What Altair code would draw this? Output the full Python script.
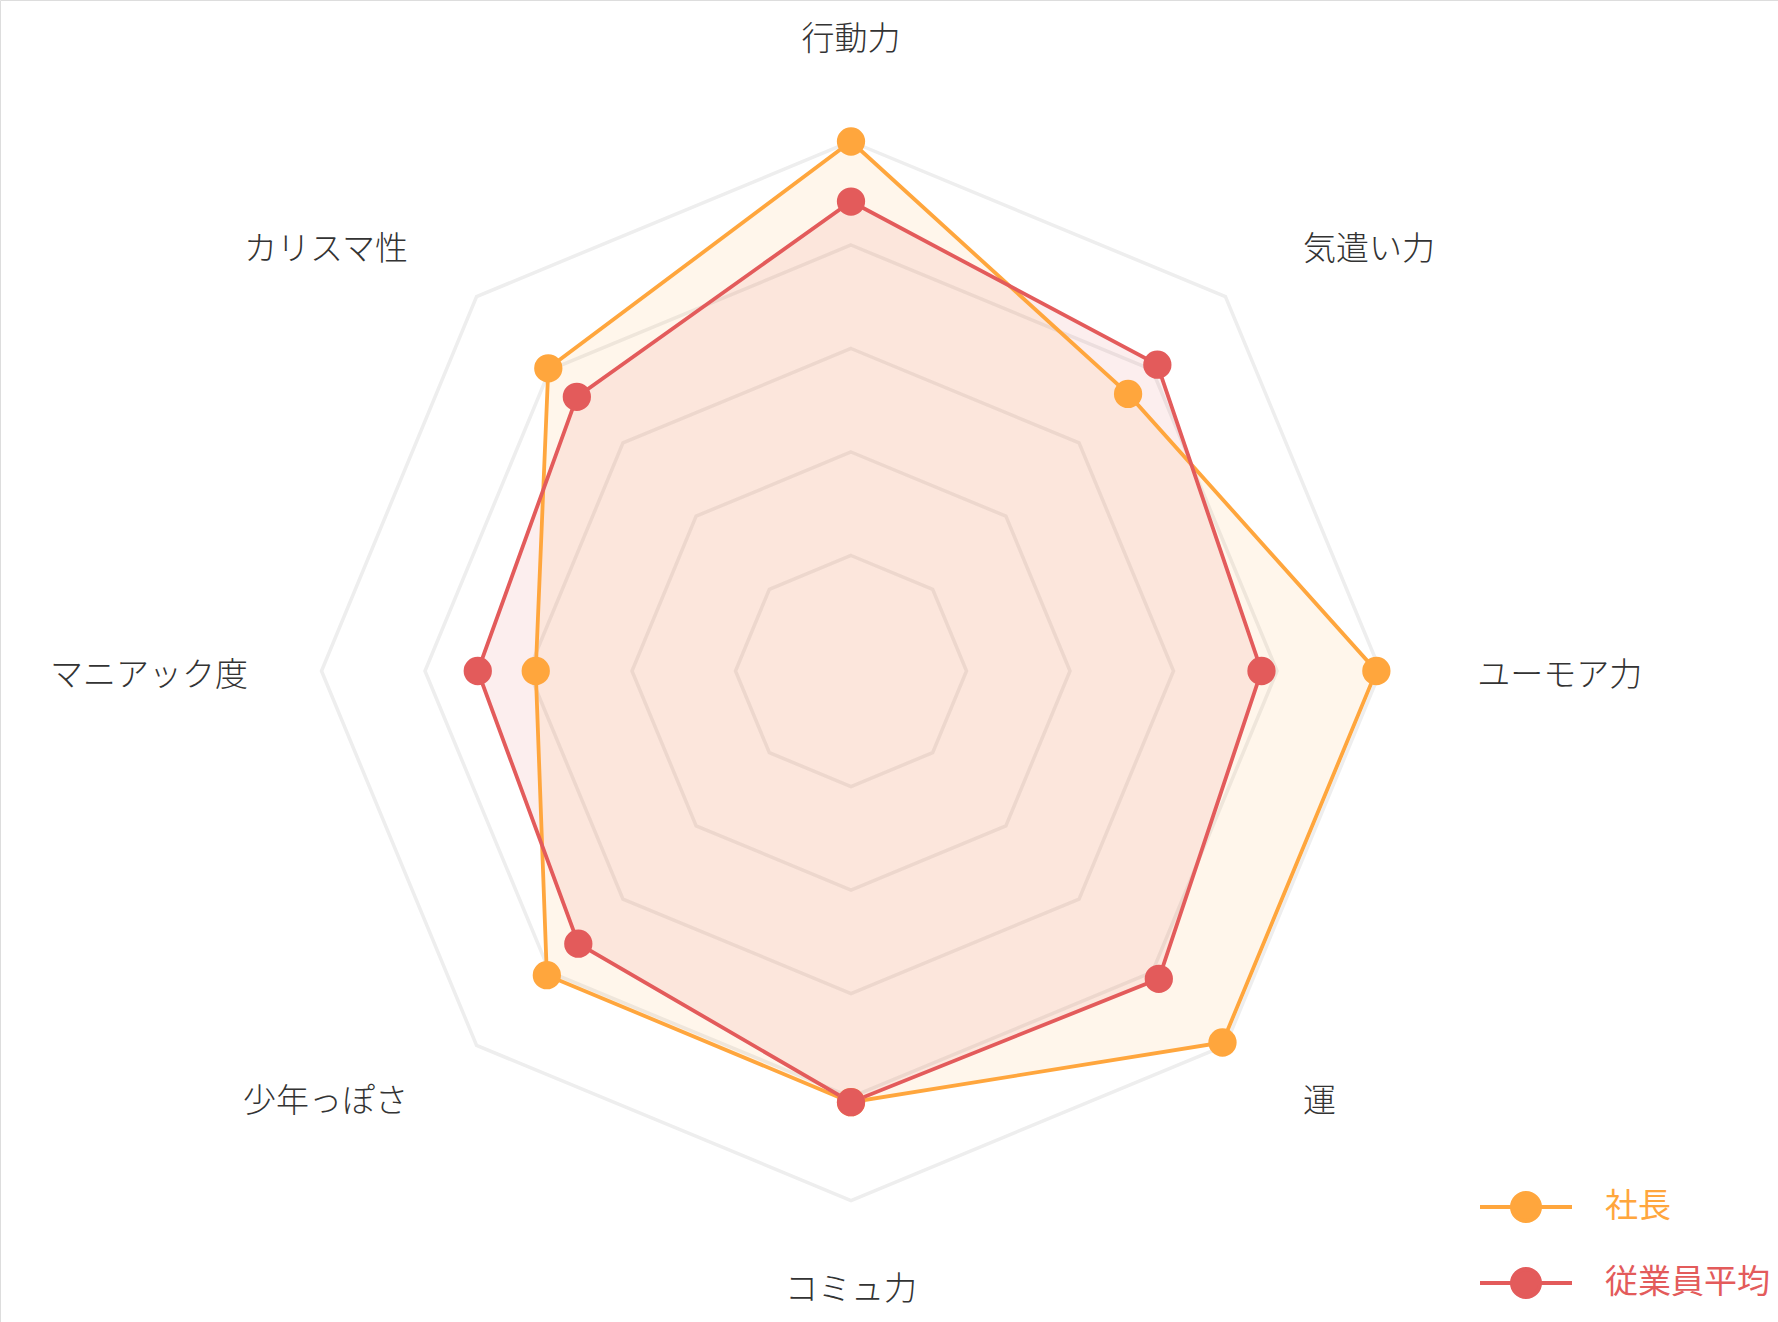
import altair as alt
import pandas as pd

# ---- data ----
categories = ["行動力", "気遣い力", "ユーモア力", "運", "コミュ力", "少年っぽさ", "マニアック度", "カリスマ性"]
series_names = ["社長", "従業員平均"]
shacho = [5.00, 3.67, 4.96, 4.96, 4.05, 4.04, 2.93, 4.02]
jugyoin = [4.42, 4.07, 3.85, 4.09, 4.05, 3.61, 3.49, 3.63]
ring_levels = [1, 2, 3, 4, 5]
series_colors = ["#FFA63D", "#E35B5B"]

# ---- layout ----
W, H = 1778, 1322
CX, CY = 851, 671          # centre of the radar in pixels
PXU = 103.5                # pixels per value unit
R0 = 0.116                 # radial origin offset of the value scale
N = len(categories)
FONT = "Noto Sans CJK JP"

rows = []
for name, vals in zip(series_names, [shacho, jugyoin]):
    for i, (c, v) in enumerate(zip(categories, vals)):
        rows.append({"series": name, "cat": c, "idx": i, "value": v})
df = pd.DataFrame(rows)
grid = pd.DataFrame([{"value": lv, "idx": i} for lv in ring_levels for i in range(N)])
labels = pd.DataFrame({"cat": categories, "idx": list(range(N))})

ANG = f"datum.idx * 2 * PI / {N}"
XE = f"(datum.value + {R0}) * sin({ANG})"
YE = f"(datum.value + {R0}) * cos({ANG})"

xs = alt.Scale(domain=[-CX / PXU, (W - CX) / PXU], nice=False, zero=False)
ys = alt.Scale(domain=[-(H - CY) / PXU, CY / PXU], nice=False, zero=False)
X = alt.X("px:Q", scale=xs, axis=None)
Y = alt.Y("py:Q", scale=ys, axis=None)
cscale = alt.Scale(domain=series_names, range=series_colors)

grid_layer = alt.Chart(grid).transform_calculate(px=XE, py=YE).mark_line(
    interpolate="linear-closed", stroke="#EEEEEE", strokeWidth=3.5
).encode(x=X, y=Y, detail="value:N", order="idx:Q")

area_layers = []
line_layers = []
for name, col in zip(series_names, series_colors):
    base = alt.Chart(df).transform_filter(alt.datum.series == name).transform_calculate(px=XE, py=YE)
    area_layers.append(
        base.mark_line(filled=True, interpolate="linear-closed", fill=col,
                       fillOpacity=0.1, strokeWidth=0)
        .encode(x=X, y=Y, order="idx:Q")
    )
    line_layers.append(
        base.mark_line(interpolate="linear-closed", stroke=col, strokeWidth=3.8)
        .encode(x=X, y=Y, order="idx:Q")
    )

LEG_PATH = ("M-2,0L2,0M-0.609,0A0.609,0.609,0,1,1,0.609,0"
            "A0.609,0.609,0,1,1,-0.609,0Z")

point_layer = alt.Chart(df).transform_calculate(px=XE, py=YE).mark_point(
    filled=True, size=800, opacity=1
).encode(
    x=X, y=Y,
    color=alt.Color(
        "series:N", scale=cscale,
        legend=alt.Legend(
            title=None, orient="none", legendX=1501, legendY=1182,
            symbolType=LEG_PATH, symbolSize=2116, symbolStrokeWidth=4,
            symbolStrokeColor={"expr": "scale('color', datum.value)"},
            symbolOpacity=1,
            labelFont=FONT, labelFontSize=33, labelLimit=400,
            labelColor={"expr": "scale('color', datum.value)"},
            labelOffset=54, rowPadding=28, padding=0,
        ),
    ),
)

S = f"sin({ANG})"
C = f"cos({ANG})"
LX = (f"abs({S}) < 0.01 ? 0 : ({S} > 0 ? {S} * 5.744 + 0.306 : {S} * 5.277 - 0.549)")
LY = (f"{C} * 6.556 + (abs({C}) < 1e-6 ? 0 : ({C} > 0 ? 1 : -1)) * (-0.517)"
      f" + (abs({S}) < 0.01 ? 0.058 : -0.05)")
AL = f"abs({S}) < 0.01 ? 'center' : ({S} > 0 ? 'left' : 'right')"

label_layers = []
for al in ["left", "center", "right"]:
    label_layers.append(
        alt.Chart(labels).transform_calculate(px=LX, py=LY, al=AL)
        .transform_filter(alt.datum.al == al)
        .mark_text(align=al, baseline="middle", font=FONT, fontSize=33,
                   fontWeight=300, color="#333333")
        .encode(x=X, y=Y, text="cat:N")
    )

chart = alt.layer(
    grid_layer, *area_layers, *line_layers, point_layer, *label_layers
).properties(
    width=W, height=H, padding=0,
    autosize=alt.AutoSizeParams(type="none"),
).configure_view(strokeWidth=0).configure(background="white")

chart.save("out.html", embed_options={"renderer": "svg", "actions": False})
